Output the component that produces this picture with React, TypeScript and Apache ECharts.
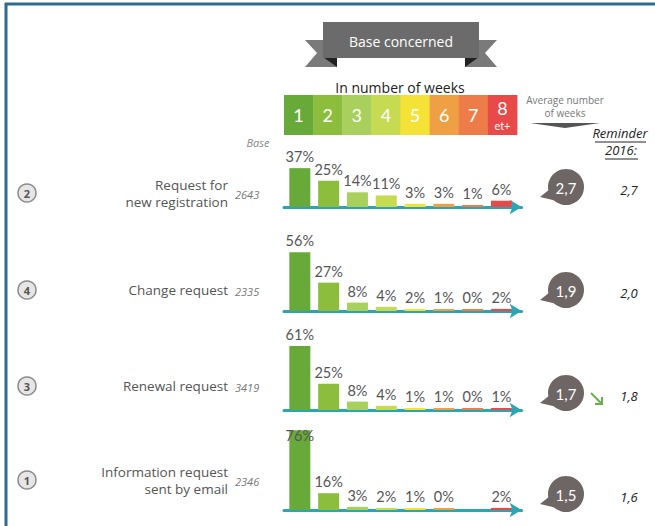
import React, { useEffect, useRef } from "react";
import * as echarts from "echarts";

// ---- data ----
const weekLabels = ["1", "2", "3", "4", "5", "6", "7", "8"];
const requestTypes = ["Request for\nnew registration", "Change request", "Renewal request", "Information request\nsent by email"];
const ranks = ["2", "4", "3", "1"];
const bases = ["2643", "2335", "3419", "2346"];
const pctNewRegistration = [37, 25, 14, 11, 3, 3, 1, 6];
const pctChange = [56, 27, 8, 4, 2, 1, 0, 2];
const pctRenewal = [61, 25, 8, 4, 1, 1, 0, 1];
const pctInformation = [76, 16, 3, 2, 1, 0, null, 2];
const avgWeeks = ["2,7", "1,9", "1,7", "1,5"];
const reminder2016 = ["2,7", "2,0", "1,8", "1,6"];
const trend = [null, null, "down", null];

// ---- styles / layout ----
const weekColors = ["#68aa3a", "#8dbd3c", "#a9d05c", "#c6da52", "#f4e236", "#f0a044", "#ee7c48", "#e84a4a"];
const panelBottoms = [207, 311, 410, 510];
const labelY = [193, 290, 386, 480];
const bubbleY = [187, 290, 393, 494];
const GRID_LEFT = 284;
const X_MIN = -0.55;
const X_MAX = 7.7;
const UNIT = 28.8;
const GRID_W = (X_MAX - X_MIN) * UNIT;
const GRID_H = 84;
const Y_MAX = 80;

const allPanels = [pctNewRegistration, pctChange, pctRenewal, pctInformation];

function buildOption() {
  const grids: any[] = [];
  const xAxes: any[] = [];
  const yAxes: any[] = [];
  const series: any[] = [];
  allPanels.forEach((vals, p) => {
    grids.push({ left: GRID_LEFT, width: GRID_W, top: panelBottoms[p] - GRID_H, height: GRID_H });
    xAxes.push({
      gridIndex: p, type: "value", min: X_MIN, max: X_MAX, offset: 3,
      axisLine: { show: true, symbol: ["none", "arrow"], symbolSize: [11, 12], lineStyle: { color: "#2aa6b3", width: 3 } },
      axisTick: { show: false }, axisLabel: { show: false }, splitLine: { show: false },
    });
    yAxes.push({ gridIndex: p, type: "value", min: 0, max: Y_MAX, show: false, splitLine: { show: false } });
    const data: any[] = [];
    vals.forEach((v, i) => {
      if (v === null) return;
      const item: any = { value: [i, v], itemStyle: { color: weekColors[i] } };
      if (v > 72) item.label = { position: "insideTop", distance: -2 };
      data.push(item);
    });
    series.push({
      type: "bar", xAxisIndex: p, yAxisIndex: p, barWidth: 21, barMinHeight: 2, data,
      label: {
        show: true, position: "top", distance: 4, color: "#555", fontFamily: "Lato", fontSize: 14.5,
        formatter: (d: any) => d.value[1] + "%",
      },
    });
  });

  const g: any[] = [];
  const txt = (x: number, y: number, text: string, font: string, fill: string, align = "center", vAlign = "middle", extra: any = {}) => ({
    type: "text", x, y, silent: true,
    style: { text, font, fill, align, verticalAlign: vAlign, textAlign: align, textVerticalAlign: vAlign, ...extra },
  });

  // border
  g.push({ type: "line", shape: { x1: 5, y1: 4, x2: 655, y2: 4 }, style: { stroke: "#2d6b8f", lineWidth: 3 } });
  g.push({ type: "line", shape: { x1: 6, y1: 3, x2: 6, y2: 526 }, style: { stroke: "#2d6b8f", lineWidth: 3 } });

  // banner
  g.push({ type: "polygon", shape: { points: [[305, 40], [337, 40], [337, 67], [305, 67], [317, 53]] }, style: { fill: "#7a7a7a" } });
  g.push({ type: "polygon", shape: { points: [[497, 40], [465, 40], [465, 67], [497, 67], [485, 53]] }, style: { fill: "#7a7a7a" } });
  g.push({ type: "polygon", shape: { points: [[323, 57], [337, 57], [337, 67]] }, style: { fill: "#222" } });
  g.push({ type: "polygon", shape: { points: [[479, 57], [465, 57], [465, 67]] }, style: { fill: "#222" } });
  g.push({ type: "rect", shape: { x: 323, y: 22, width: 156, height: 36 }, style: { fill: "#6b6b6b" } });
  g.push(txt(401, 41, "Base concerned", "14px 'Open Sans'", "#fff"));
  g.push(txt(400, 87, "In number of weeks", "14px 'Open Sans'", "#222"));

  // week header boxes
  const bw = 233 / 8;
  weekLabels.forEach((w, i) => {
    const x0 = 284 + i * bw;
    g.push({ type: "rect", shape: { x: x0, y: 95, width: bw + 0.4, height: 40 }, style: { fill: weekColors[i] } });
    if (i === 7) {
      g.push(txt(x0 + bw / 2, 108, w, "18px Lato", "#fff"));
      g.push(txt(x0 + bw / 2, 125, "et+", "11px Lato", "#fff"));
    } else {
      g.push(txt(x0 + bw / 2, 115, w, "18px Lato", "#fff"));
    }
  });

  // Base header
  g.push(txt(258, 142, "Base", "italic 11px 'Open Sans'", "#888"));

  // average header
  g.push(txt(565, 100, "Average number", "10px 'Open Sans'", "#777"));
  g.push(txt(565, 113, "of weeks", "10px 'Open Sans'", "#777"));
  g.push({ type: "polygon", shape: { points: [[530, 123], [600, 123], [565, 128]] }, style: { fill: "#555" } });

  // reminder header
  g.push(txt(620, 133, "Reminder", "italic 13px 'Open Sans'", "#222"));
  g.push({ type: "line", shape: { x1: 595, y1: 142, x2: 646, y2: 142 }, style: { stroke: "#222", lineWidth: 1 } });
  g.push(txt(621, 150, "2016:", "italic 13px 'Open Sans'", "#222"));
  g.push({ type: "line", shape: { x1: 605, y1: 159, x2: 638, y2: 159 }, style: { stroke: "#222", lineWidth: 1 } });

  requestTypes.forEach((r, p) => {
    const y = labelY[p];
    // rank badge
    g.push({ type: "circle", shape: { cx: 27, cy: y, r: 9 }, style: { fill: "#e6e6e6", stroke: "#8a8a8a", lineWidth: 1.5 } });
    g.push(txt(27, y + 0.5, ranks[p], "bold 11px 'Open Sans'", "#555"));
    // request label (one text per line)
    const lines = r.split("\n");
    lines.forEach((ln, k) => {
      const ly = y + (k - (lines.length - 1) / 2) * 17;
      g.push(txt(228, ly, ln, "13.5px 'Open Sans'", "#555", "right"));
    });
    // base
    g.push(txt(235, y + 1, bases[p], "italic 11px 'Open Sans'", "#777", "left"));
    // bubble
    const by = bubbleY[p];
    g.push({ type: "polygon", shape: { points: [[550, by + 2], [540, by + 10], [557, by + 14]] }, style: { fill: "#6e6664" } });
    g.push({ type: "circle", shape: { cx: 566, cy: by, r: 18 }, style: { fill: "#6e6664" } });
    g.push(txt(566, by + 1, avgWeeks[p], "15px Lato", "#fff"));
    // reminder value
    g.push(txt(629, by + 3, reminder2016[p], "italic 13px 'Open Sans'", "#222"));
    if (trend[p] === "down") {
      g.push({ type: "line", shape: { x1: 591, y1: by + 0, x2: 602, y2: by + 11 }, style: { stroke: "#6ab04c", lineWidth: 2 } });
      g.push({ type: "polyline", shape: { points: [[595, by + 11], [602, by + 11], [602, by + 4]] }, style: { stroke: "#6ab04c", lineWidth: 2, fill: null } });
    }
  });

  return {
    animation: false,
    backgroundColor: "#fff",
    grid: grids,
    xAxis: xAxes,
    yAxis: yAxes,
    series,
    graphic: { elements: g },
  };
}

export default function App() {
  const ref = useRef<HTMLDivElement>(null);
  useEffect(() => {
    if (!ref.current) return;
    const chart = echarts.init(ref.current, null, { renderer: "svg" });
    chart.setOption(buildOption() as any);
    return () => chart.dispose();
  }, []);
  return <div ref={ref} style={{ position: "fixed", left: 0, top: 0, width: 655, height: 526 }} />;
}
